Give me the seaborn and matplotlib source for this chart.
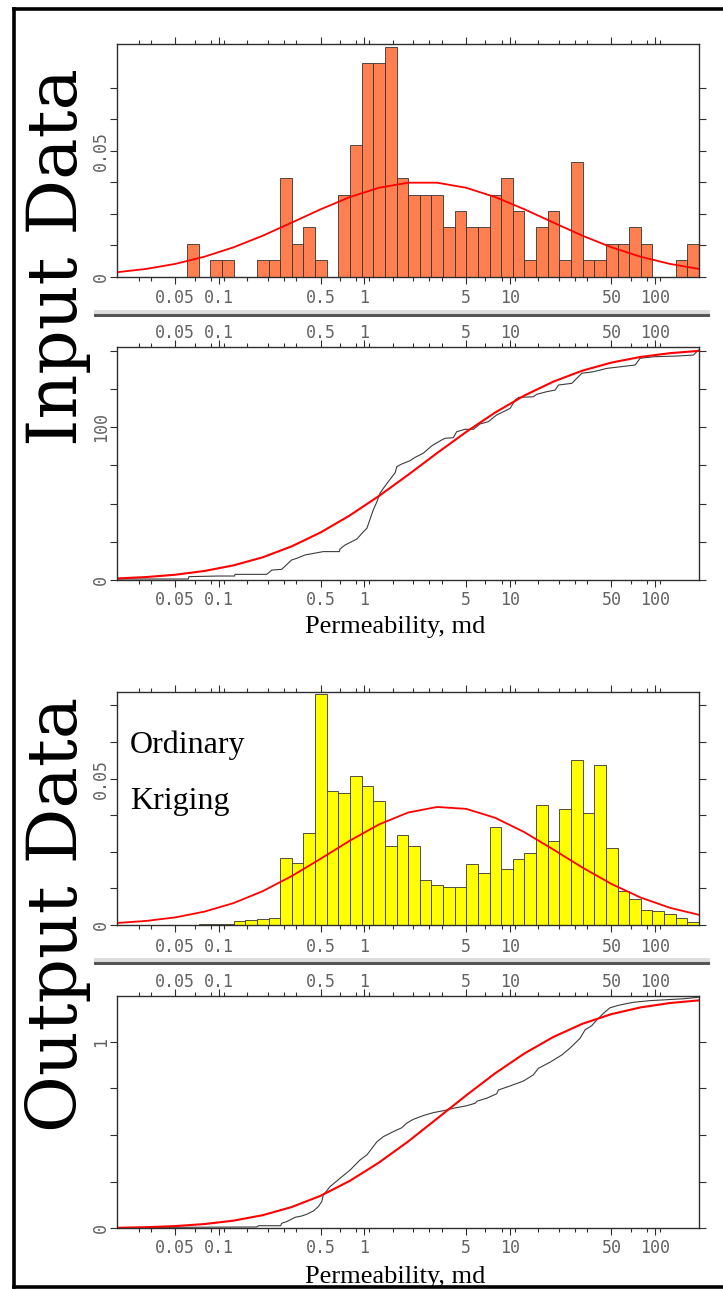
import numpy as np
import pandas as pd
import matplotlib
matplotlib.use("Agg")
import matplotlib.pyplot as plt
from matplotlib.lines import Line2D
from matplotlib.patches import Rectangle
from matplotlib.ticker import NullFormatter, NullLocator
import seaborn as sns

# ------------------------------------------------------------------ data
BIN_LO, BIN_HI, N_BINS = 0.02, 200.0, 50

# Input data histogram: counts per log bin (50 bins from 0.02 to 200 md)
input_counts = [0, 0, 0, 0, 0, 0, 2, 0, 1, 1,
                0, 0, 1, 1, 6, 2, 3, 1, 0, 5,
                8, 13, 13, 14, 6, 5, 5, 5, 3, 4,
                3, 3, 5, 6, 4, 1, 3, 4, 1, 7,
                1, 1, 2, 2, 3, 2, 0, 0, 1, 2]
input_total = 153.5

# Output (ordinary kriging) histogram: frequency per log bin
output_freq = [0, 0, 0, 0, 0, 0, 0, 0.0004, 0.0004, 0.0005,
               0.0013, 0.0017, 0.0022, 0.0024, 0.0230, 0.0211, 0.0313, 0.0789, 0.0459, 0.0452,
               0.0510, 0.0476, 0.0422, 0.0271, 0.0307, 0.0271, 0.0155, 0.0138, 0.0129, 0.0131,
               0.0207, 0.0177, 0.0336, 0.0193, 0.0227, 0.0245, 0.0411, 0.0288, 0.0395, 0.0563,
               0.0382, 0.0546, 0.0264, 0.0115, 0.0090, 0.0050, 0.0047, 0.0039, 0.0023, 0.0009]

input_cdf_x = [0.02, 0.0615, 0.0622, 0.099, 0.128, 0.129, 0.213, 0.231, 0.270, 0.316,
               0.343, 0.391, 0.522, 0.673, 0.680, 0.736, 0.887, 0.985, 1.04, 1.15,
               1.22, 1.28, 1.35, 1.46, 1.63, 1.67, 1.81, 2.06, 2.23, 2.54,
               2.90, 3.40, 3.59, 4.09, 4.31, 4.92, 5.62, 6.24, 7.12, 8.13,
               9.03, 10.05, 10.9, 11.5, 14.5, 15.3, 17.9, 20.5, 21.6, 26.7,
               28.9, 31.3, 37.6, 46.5, 72.8, 78.7, 97.3, 140.7, 183.0, 198.0]
input_cdf_y = [0.65, 0.65, 2.2, 2.6, 2.6, 3.7, 3.7, 6.5, 7.0, 13.1,
               14.2, 16.4, 18.6, 18.6, 20.3, 22.9, 26.8, 31.6, 33.8, 45.8,
               51.3, 56.8, 60.0, 64.4, 70.3, 74.2, 76.0, 78.1, 80.3, 83.0,
               87.8, 91.7, 92.8, 93.2, 97.1, 98.7, 98.7, 102.2, 103.7, 108.1,
               110.2, 112.4, 117.9, 119.6, 120.0, 121.6, 123.3, 124.4, 127.7, 128.8,
               132.1, 135.4, 136.4, 138.6, 140.8, 145.2, 146.2, 146.7, 147.3, 150.6]

output_cdf_x = [0.02, 0.0393, 0.182, 0.187, 0.266, 0.270, 0.293, 0.334, 0.371, 0.401,
                0.446, 0.482, 0.509, 0.522, 0.580, 0.680, 0.797, 0.933, 1.04, 1.22,
                1.35, 1.58, 1.81, 1.95, 2.17, 2.54, 2.98, 3.49, 4.09, 5.06,
                5.77, 5.98, 6.93, 8.13, 8.34, 10.05, 12.4, 14.5, 15.7, 18.9,
                22.8, 25.9, 30.4, 32.9, 36.6, 39.6, 44.0, 48.9, 57.3, 70.7,
                92.0, 119.9, 156.0, 198.0]
output_cdf_y = [0.003, 0.005, 0.007, 0.014, 0.014, 0.027, 0.036, 0.059, 0.066, 0.075,
                0.093, 0.116, 0.143, 0.178, 0.223, 0.268, 0.312, 0.366, 0.393, 0.464,
                0.491, 0.518, 0.539, 0.563, 0.584, 0.604, 0.620, 0.630, 0.643, 0.657,
                0.670, 0.682, 0.697, 0.721, 0.741, 0.763, 0.789, 0.822, 0.857, 0.890,
                0.929, 0.965, 1.018, 1.063, 1.086, 1.116, 1.152, 1.182, 1.197, 1.211,
                1.220, 1.225, 1.230, 1.238]

# Fitted (red) curves, read at 0.2-decade steps
fit_x = [0.02, 0.0316, 0.0501, 0.0794, 0.126, 0.2, 0.316, 0.501, 0.794, 1.26,
         2.0, 3.16, 5.01, 7.94, 12.6, 20.0, 31.6, 50.1, 79.4, 126.0, 200.0]
input_fit_hist = [0.00178, 0.00309, 0.00508, 0.00792, 0.01166, 0.01625, 0.02144,
                  0.02675, 0.03158, 0.03528, 0.03729, 0.03729, 0.03528, 0.03158,
                  0.02675, 0.02144, 0.01625, 0.01166, 0.00792, 0.00508, 0.00309]
input_fit_cdf = [1.03, 1.93, 3.46, 5.90, 9.59, 14.87, 22.02, 31.18, 42.29, 55.04,
                 68.88, 83.12, 96.96, 109.71, 120.82, 129.98, 137.13, 142.41, 146.10,
                 148.54, 150.07]
output_fit_hist = [0.00070, 0.00139, 0.00260, 0.00456, 0.00749, 0.01155, 0.01670,
                   0.02265, 0.02880, 0.03435, 0.03843, 0.04032, 0.03968, 0.03662,
                   0.03171, 0.02574, 0.01961, 0.01400, 0.00938, 0.00589, 0.00347]
output_fit_cdf = [0.0027, 0.0059, 0.0119, 0.0227, 0.0411, 0.0703, 0.1138, 0.1745,
                  0.2542, 0.3522, 0.4653, 0.5878, 0.7122, 0.8309, 0.9370, 1.0260,
                  1.0961, 1.1480, 1.1839, 1.2072, 1.2215]

x_tick_values = [0.05, 0.1, 0.5, 1, 5, 10, 50, 100]
x_tick_labels = ["0.05", "0.1", "0.5", "1", "5", "10", "50", "100"]

hist_yticks = [0, 0.0125, 0.025, 0.0375, 0.05, 0.0625, 0.075]
hist_ylabels = ["0", "", "", "", "0.05", "", ""]
cdf1_yticks = [0, 25, 50, 75, 100, 125, 150]
cdf1_ylabels = ["0", "", "", "", "100", "", ""]
cdf2_yticks = [0, 0.25, 0.5, 0.75, 1.0]
cdf2_ylabels = ["0", "", "", "", "1"]

# ------------------------------------------------------------------ style
sns.set_theme(style="white")
plt.rcParams["font.family"] = ["Liberation Serif", "DejaVu Sans"]

W, H = 723, 1289
TICK_FONT = dict(fontfamily="DejaVu Sans Mono", fontsize=12, color="#626262")
SERIF = "Liberation Serif"
SPINE = "#2e2e2e"

MINOR_MULT = [1.08, 1.57, 2.17, 2.8, 3.4, 6.8, 8.8]
minor_ticks = [d * m for d in (0.01, 0.1, 1, 10, 100) for m in MINOR_MULT
               if 0.025 < d * m < 112]

fig = plt.figure(figsize=(W / 100, H / 100), dpi=100)
fig.patch.set_facecolor("white")


def rect(top, bottom, left=117.3, right=699.0):
    return [left / W, 1 - bottom / H, (right - left) / W, (bottom - top) / H]


def set_xticks(ax):
    ax.set_xscale("log")
    ax.set_xlim(BIN_LO, BIN_HI)
    ax.set_xticks(x_tick_values, labels=x_tick_labels, **TICK_FONT)
    ax.set_xticks(minor_ticks, minor=True)
    ax.xaxis.set_minor_formatter(NullFormatter())
    ax.tick_params(axis="x", which="major", length=5, width=0.8, color=SPINE, direction="out")
    ax.tick_params(axis="x", which="minor", length=2.9, width=0.8, color=SPINE, direction="out")


def style_axes(ax, yticks, ylabels, ylim, cdf):
    ax.set_facecolor("white")
    set_xticks(ax)
    ax.set_ylim(*ylim)
    ax.set_yticks(yticks, labels=ylabels, rotation=90, va="center", ha="right", **TICK_FONT)
    ax.yaxis.set_minor_locator(NullLocator())
    ax.tick_params(axis="y", which="major", left=True, right=True, length=5, width=0.8,
                   color=SPINE, direction="out", pad=0)
    ax.set_xlabel("")
    ax.set_ylabel("")
    for s in ax.spines.values():
        s.set_visible(True)
        s.set_color(SPINE)
        s.set_linewidth(1.0)
    if cdf:
        ax.tick_params(axis="x", which="both", bottom=True, top=False, labelbottom=True,
                       labeltop=False, pad=3.0)
        axt = ax.twiny()
        set_xticks(axt)
        axt.tick_params(axis="x", which="both", bottom=False, top=True, labelbottom=False,
                        labeltop=True, pad=-1.3)
        for s in axt.spines.values():
            s.set_visible(False)
    else:
        ax.tick_params(axis="x", which="both", bottom=True, top=True, labelbottom=True,
                       labeltop=False, pad=4.2)


log_edges = np.linspace(np.log10(BIN_LO), np.log10(BIN_HI), N_BINS + 1)
bin_centers = 10 ** (0.5 * (log_edges[:-1] + log_edges[1:]))

df_in = pd.DataFrame({"perm": bin_centers,
                      "freq": np.array(input_counts) / input_total})
df_out = pd.DataFrame({"perm": bin_centers, "freq": output_freq})

hist_kw = dict(bins=N_BINS, binrange=(np.log10(BIN_LO), np.log10(BIN_HI)),
               log_scale=True, stat="count", alpha=1.0, edgecolor="#333333",
               linewidth=0.6)
line_kw = dict(estimator=None, sort=False)

# ---- Input histogram
ax1 = fig.add_axes(rect(44.0, 276.7))
sns.histplot(data=df_in, x="perm", weights="freq", color="#FF7F50", ax=ax1, **hist_kw)
sns.lineplot(x=fit_x, y=input_fit_hist, color="red", linewidth=1.3, ax=ax1, **line_kw)
style_axes(ax1, hist_yticks, hist_ylabels, (0, 0.0923), cdf=False)

# ---- Input CDF
ax2 = fig.add_axes(rect(347.3, 580.0))
ax2.set_xscale("log")
sns.lineplot(x=input_cdf_x, y=input_cdf_y, color="#3c3c3c", linewidth=0.8, ax=ax2, **line_kw)
sns.lineplot(x=fit_x, y=input_fit_cdf, color="red", linewidth=1.5, ax=ax2, **line_kw)
style_axes(ax2, cdf1_yticks, cdf1_ylabels, (0, 152.4), cdf=True)

# ---- Output histogram
ax3 = fig.add_axes(rect(692.3, 925.0))
sns.histplot(data=df_out, x="perm", weights="freq", color="#FFFF00", ax=ax3, **hist_kw)
sns.lineplot(x=fit_x, y=output_fit_hist, color="red", linewidth=1.3, ax=ax3, **line_kw)
style_axes(ax3, hist_yticks, hist_ylabels, (0, 0.0795), cdf=False)

# ---- Output CDF
ax4 = fig.add_axes(rect(995.7, 1228.3))
ax4.set_xscale("log")
sns.lineplot(x=output_cdf_x, y=output_cdf_y, color="#3c3c3c", linewidth=0.8, ax=ax4, **line_kw)
sns.lineplot(x=fit_x, y=output_fit_cdf, color="red", linewidth=1.5, ax=ax4, **line_kw)
style_axes(ax4, cdf2_yticks, cdf2_ylabels, (0, 1.2465), cdf=True)

# ------------------------------------------------------------------ texts
fig.text(395.5 / W, 1 - 616 / H, "Permeability, md", ha="center", va="top",
         fontsize=19, family=SERIF, color="black")
fig.text(395.5 / W, 1 - 1266 / H, "Permeability, md", ha="center", va="top",
         fontsize=19, family=SERIF, color="black")
fig.text(129.8 / W, 1 - 752.5 / H, "Ordinary", ha="left", va="baseline",
         fontsize=23, family=SERIF, color="black")
fig.text(129.8 / W, 1 - 809 / H, "Kriging", ha="left", va="baseline",
         fontsize=23, family=SERIF, color="black")
BIG = dict(rotation=90, rotation_mode="anchor", ha="center", va="baseline",
           fontsize=50, family=["DejaVu Serif"], color="black")
fig.text(77.5 / W, 1 - 257.5 / H, "Input Data", **BIG)
fig.text(77.5 / W, 1 - 914 / H, "Output Data", **BIG)

# ------------------------------------------------------------------ separators & frame
for top in (310.0, 958.3):
    fig.add_artist(Rectangle((93.5 / W, 1 - (top + 4.0) / H), (710 - 93.5) / W, 4.0 / H,
                             transform=fig.transFigure, facecolor="#dcdcdc",
                             edgecolor="none", zorder=5))
    fig.add_artist(Rectangle((93.5 / W, 1 - (top + 6.7) / H), (710 - 93.5) / W, 2.7 / H,
                             transform=fig.transFigure, facecolor="#555555",
                             edgecolor="none", zorder=5))

frame_kw = dict(transform=fig.transFigure, color="black", linewidth=2.6,
                solid_capstyle="projecting", zorder=10)
fig.add_artist(Line2D([13.5 / W, 13.5 / W], [1 - 8.8 / H, 1 - 1287 / H], **frame_kw))
fig.add_artist(Line2D([13.5 / W, 760 / W], [1 - 8.8 / H, 1 - 8.8 / H], **frame_kw))
fig.add_artist(Line2D([13.5 / W, 760 / W], [1 - 1287 / H, 1 - 1287 / H], **frame_kw))

fig.savefig("out.png", dpi=100, facecolor="white")
